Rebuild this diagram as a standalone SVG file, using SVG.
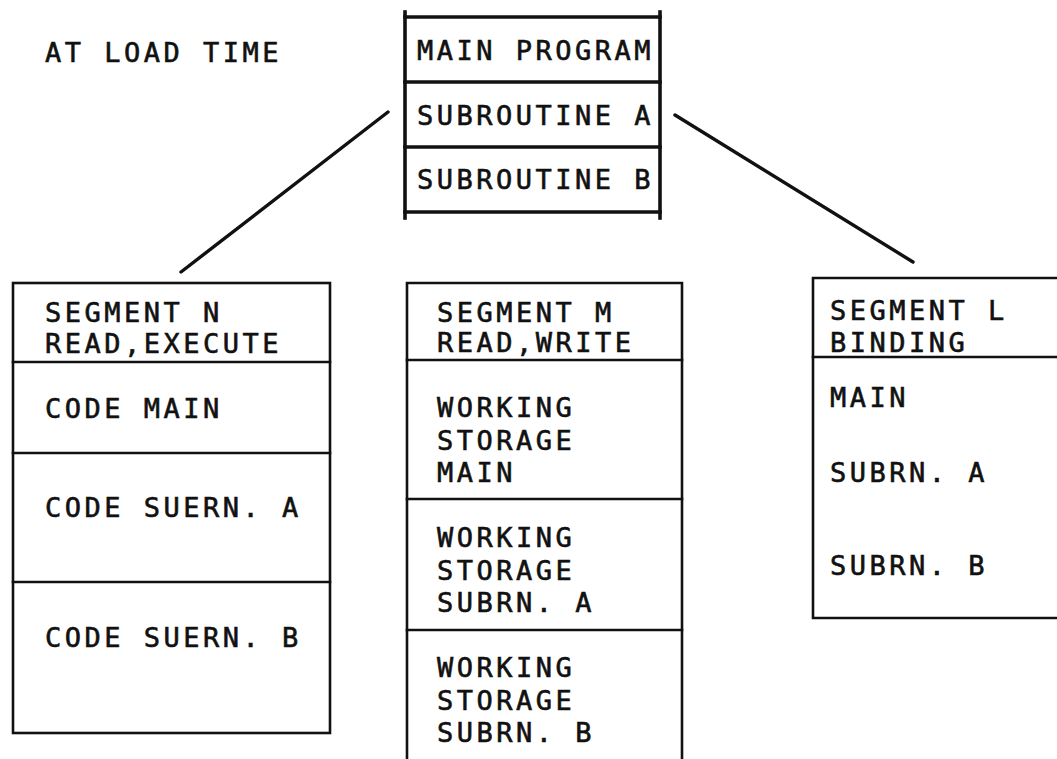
<svg xmlns="http://www.w3.org/2000/svg" width="1057" height="759" viewBox="0 0 1057 759">
  <style>
    .bg { fill: #ffffff; }
    .lbl { font-family: "DejaVu Sans Mono", "Liberation Mono", monospace; font-size: 27px; letter-spacing: 3.5px; fill: #111111; stroke: #111111; stroke-width: 0.6; }
    .box { fill: none; stroke: #111111; stroke-width: 2.6; stroke-linecap: square; }
    .heavy { fill: none; stroke: #111111; stroke-width: 3.6; stroke-linecap: square; }
    .link { stroke: #111111; stroke-width: 3.4; stroke-linecap: round; }
  </style>
  <rect class="bg" x="0" y="0" width="1057" height="759"/>

  <text id="title" class="lbl" x="45" y="62">AT LOAD TIME</text>

  <!-- load module: main program and its two subroutines -->
  <g id="load-module">
    <line class="heavy" x1="405" y1="12" x2="405" y2="218"/>
    <line class="heavy" x1="660" y1="12" x2="660" y2="218"/>
    <line class="heavy" x1="405" y1="17" x2="660" y2="17"/>
    <line class="heavy" x1="405" y1="82" x2="660" y2="82"/>
    <line class="heavy" x1="405" y1="147" x2="660" y2="147"/>
    <line class="heavy" x1="405" y1="212" x2="660" y2="212"/>
    <text class="lbl" x="417" y="60">MAIN PROGRAM</text>
    <text class="lbl" x="417" y="125">SUBROUTINE A</text>
    <text class="lbl" x="417" y="189">SUBROUTINE B</text>
  </g>

  <!-- connectors from the load module to the segments -->
  <g id="connectors">
    <line class="link" x1="388" y1="112" x2="181" y2="272"/>
    <line class="link" x1="675" y1="115" x2="913" y2="262"/>
  </g>

  <!-- segment N: executable code -->
  <g id="segment-n">
    <rect class="box" x="13" y="283" width="317" height="450"/>
    <line class="box" x1="13" y1="362" x2="330" y2="362"/>
    <line class="box" x1="13" y1="453" x2="330" y2="453"/>
    <line class="box" x1="13" y1="582" x2="330" y2="582"/>
    <text class="lbl" x="45" y="322">SEGMENT N</text>
    <text class="lbl" x="45" y="353">READ,EXECUTE</text>
    <text class="lbl" x="45" y="418">CODE MAIN</text>
    <text class="lbl" x="45" y="517">CODE SUERN. A</text>
    <text class="lbl" x="45" y="647">CODE SUERN. B</text>
  </g>

  <!-- segment M: working storage, open at the bottom -->
  <g id="segment-m">
    <polyline class="box" points="407,760 407,283 682,283 682,760"/>
    <line class="box" x1="407" y1="360" x2="682" y2="360"/>
    <line class="box" x1="407" y1="499" x2="682" y2="499"/>
    <line class="box" x1="407" y1="630" x2="682" y2="630"/>
    <text class="lbl" x="437" y="322">SEGMENT M</text>
    <text class="lbl" x="437" y="352">READ,WRITE</text>
    <text class="lbl" x="437" y="417">WORKING</text>
    <text class="lbl" x="437" y="450">STORAGE</text>
    <text class="lbl" x="437" y="482">MAIN</text>
    <text class="lbl" x="437" y="547">WORKING</text>
    <text class="lbl" x="437" y="580">STORAGE</text>
    <text class="lbl" x="437" y="612">SUBRN. A</text>
    <text class="lbl" x="437" y="677">WORKING</text>
    <text class="lbl" x="437" y="710">STORAGE</text>
    <text class="lbl" x="437" y="742">SUBRN. B</text>
  </g>

  <!-- segment L: binding, open at the right -->
  <g id="segment-l">
    <polyline class="box" points="1060,278 813,278 813,618 1060,618"/>
    <line class="box" x1="813" y1="357" x2="1060" y2="357"/>
    <text class="lbl" x="830" y="320">SEGMENT L</text>
    <text class="lbl" x="830" y="352">BINDING</text>
    <text class="lbl" x="830" y="407">MAIN</text>
    <text class="lbl" x="830" y="482">SUBRN. A</text>
    <text class="lbl" x="830" y="575">SUBRN. B</text>
  </g>
</svg>
